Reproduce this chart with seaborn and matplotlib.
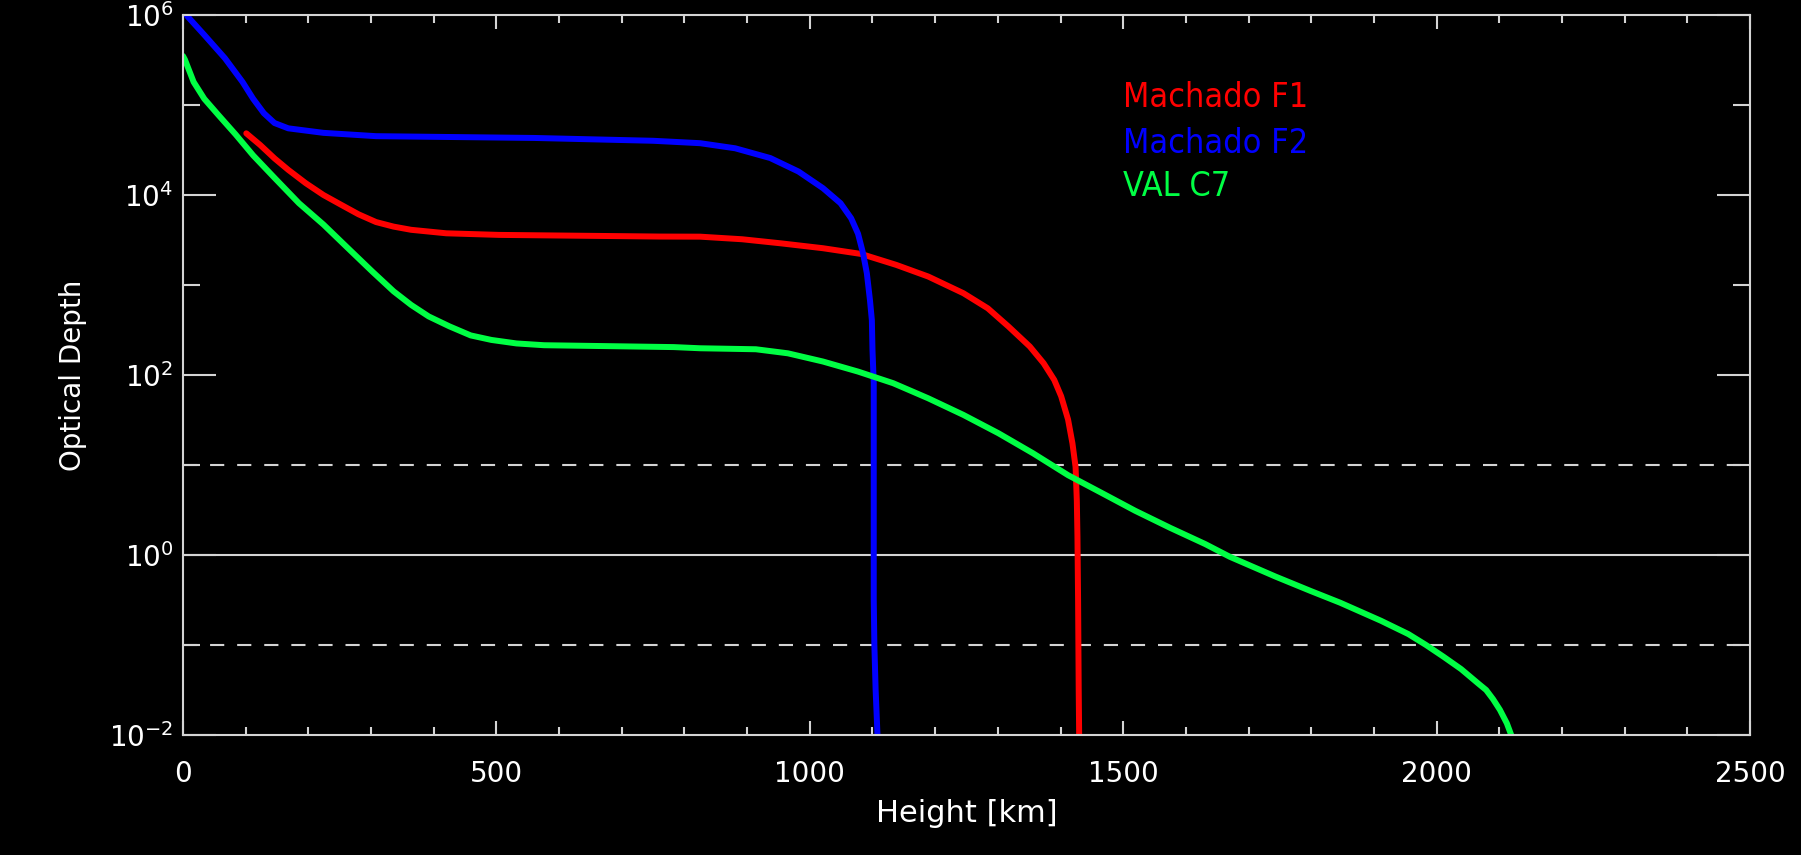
import numpy as np
import pandas as pd
import matplotlib
matplotlib.use("Agg")
import matplotlib.pyplot as plt
import matplotlib.ticker as mticker
import seaborn as sns

# Optical depth versus height for three atmosphere models
f1_height = [101, 123, 146, 168, 196, 224, 252, 280, 308, 336, 364, 420, 504, 761,
             825, 892, 954, 1021, 1082, 1138, 1189, 1245, 1284, 1317, 1351, 1373,
             1390, 1401, 1412, 1419, 1424, 1426, 1427, 1428, 1429, 1430]
f1_depth = [4.84e4, 3.6e4, 2.55e4, 1.9e4, 1.35e4, 1.0e4, 7.8e3, 6.1e3, 5.0e3,
            4.45e3, 4.1e3, 3.75e3, 3.6e3, 3.45e3, 3.44e3, 3.22e3, 2.9e3, 2.56e3,
            2.21e3, 1.67e3, 1.24e3, 810, 550, 345, 207, 135, 88, 58, 32, 17.4, 9.5,
            4.0, 1.6, 0.32, 0.032, 0.0063]

f2_height = [0, 8, 34, 67, 95, 112, 129, 146, 168, 224, 308, 560, 750, 825, 881,
             937, 982, 1021, 1049, 1066, 1077, 1085, 1091, 1096, 1099, 1100, 1102,
             1102, 1102, 1103, 1105, 1108, 1109]
f2_depth = [1.12e6, 9.5e5, 6.0e5, 3.3e5, 1.8e5, 1.17e5, 8.1e4, 6.3e4, 5.5e4, 4.9e4,
            4.5e4, 4.3e4, 4.0e4, 3.76e4, 3.3e4, 2.57e4, 1.82e4, 1.19e4, 8.1e3,
            5.5e3, 3.7e3, 2.24e3, 1.35e3, 676, 407, 190, 81, 9.5, 0.32, 0.1, 0.032,
            0.01, 0.0063]

c7_height = [0, 3, 17, 34, 56, 84, 112, 146, 185, 224, 263, 302, 336, 364, 392,
             425, 459, 492, 532, 576, 783, 825, 914, 965, 1021, 1077, 1133, 1189,
             1245, 1301, 1356, 1412, 1463, 1519, 1575, 1631, 1670, 1743, 1799, 1846,
             1911, 1955, 1983, 2011, 2039, 2067, 2079, 2090, 2101, 2112, 2119, 2122]
c7_depth = [3.5e5, 3.2e5, 1.8e5, 1.17e5, 7.8e4, 4.7e4, 2.75e4, 1.55e4, 8.1e3,
            4.7e3, 2.57e3, 1.41e3, 850, 600, 447, 347, 275, 245, 224, 214, 204,
            198, 193, 174, 141, 109, 81, 55, 36, 22.5, 13.5, 7.7, 5.0, 3.1, 2.0,
            1.32, 0.955, 0.575, 0.398, 0.295, 0.186, 0.132, 0.1, 0.074, 0.054,
            0.037, 0.0316, 0.025, 0.019, 0.0135, 0.01, 0.008]

model_names = ["Machado F1", "Machado F2", "VAL C7"]
model_colors = ["#ff0000", "#0000ff", "#00ff44"]
ref_levels = [10.0, 1.0, 0.1]
ref_styles = ["dashed", "solid", "dashed"]

x_ticks = [0, 500, 1000, 1500, 2000, 2500]
y_major = [1e-2, 1e0, 1e2, 1e4, 1e6]
y_minor = [1e-1, 1e1, 1e3, 1e5]

frames = []
for name, h, d in zip(model_names,
                      [f1_height, f2_height, c7_height],
                      [f1_depth, f2_depth, c7_depth]):
    frames.append(pd.DataFrame({"height": h, "depth": d, "model": name}))
df = pd.concat(frames, ignore_index=True)

fg = "#d4d4d4"
sns.set_theme(style="dark", rc={
    "figure.facecolor": "black",
    "axes.facecolor": "black",
    "axes.edgecolor": fg,
    "axes.linewidth": 1.5,
    "text.color": "white",
    "axes.labelcolor": "white",
    "xtick.color": fg,
    "ytick.color": fg,
    "axes.grid": False,
})
plt.rcParams["font.family"] = ["DejaVu Sans"]

fig = plt.figure(figsize=(18.01, 8.55), dpi=100)
ax = fig.add_axes([0.1016, 0.1404, 0.8701, 0.8421])

sns.lineplot(data=df, x="height", y="depth", hue="model", palette=model_colors,
             hue_order=model_names, estimator=None, sort=False, units="model",
             linewidth=4.3, legend=False, ax=ax)

ax.set_yscale("log")
ax.set_xlim(0, 2500)
ax.set_ylim(1e-2, 1e6)

for lvl, ls in zip(ref_levels, ref_styles):
    line = ax.axhline(lvl, color=fg, linewidth=1.5, zorder=1)
    if ls == "dashed":
        line.set_dashes((6.8, 6.2))

ax.xaxis.set_major_locator(mticker.FixedLocator(x_ticks))
ax.xaxis.set_minor_locator(mticker.MultipleLocator(100))
ax.yaxis.set_major_locator(mticker.FixedLocator(y_major))
ax.yaxis.set_minor_locator(mticker.FixedLocator(y_minor))
ax.yaxis.set_major_formatter(mticker.LogFormatterSciNotation())
ax.yaxis.set_minor_formatter(mticker.NullFormatter())
ax.xaxis.set_major_formatter(mticker.FormatStrFormatter("%d"))

ax.tick_params(axis="x", which="major", direction="in", length=10, width=1.5,
               top=True, bottom=True, pad=18, labelsize=20, labelcolor="white")
ax.tick_params(axis="x", which="minor", direction="in", length=6, width=1.5,
               top=True, bottom=True)
ax.tick_params(axis="y", which="major", direction="in", length=24, width=1.5,
               left=True, right=True, pad=7, labelsize=20, labelcolor="white")
ax.tick_params(axis="y", which="minor", direction="in", length=12, width=1.5,
               left=True, right=True)

for s in ax.spines.values():
    s.set_visible(True)
    s.set_color(fg)

ax.set_xlabel("Height [km]", fontsize=22, labelpad=8)
ax.set_ylabel("Optical Depth", fontsize=20, labelpad=16)

for name, color, ypos in zip(model_names, model_colors, [0.872, 0.808, 0.749]):
    ax.text(0.600, ypos, name, color=color, fontsize=24.5,
            fontstretch="condensed", transform=ax.transAxes,
            ha="left", va="baseline")

fig.savefig("out.png", dpi=100, facecolor="black")
